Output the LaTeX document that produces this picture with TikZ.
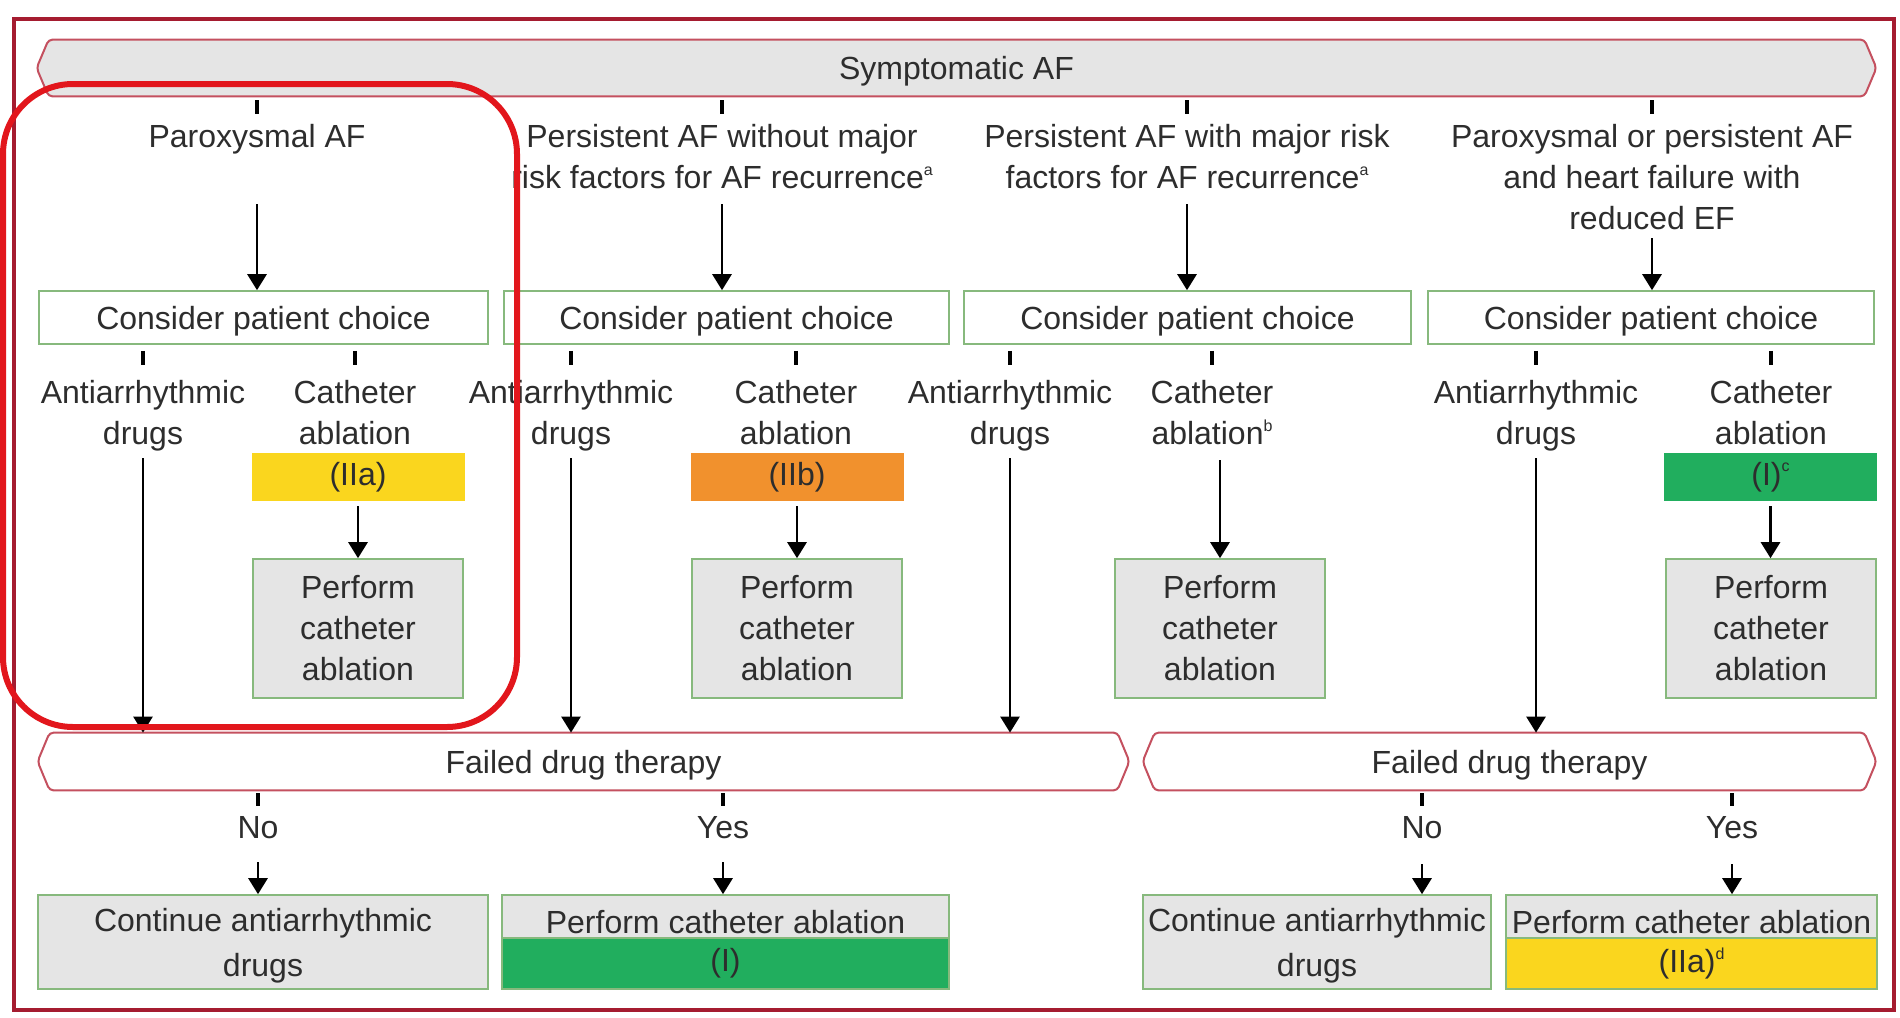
\documentclass[tikz,border=0pt]{standalone}
\usepackage{fontspec}
\setmainfont{Liberation Sans}
\usetikzlibrary{arrows.meta,backgrounds,calc}
\definecolor{framec}{RGB}{165,28,48}
\definecolor{banborder}{RGB}{196,80,95}
\definecolor{bangrey}{RGB}{229,229,229}
\definecolor{boxborder}{RGB}{135,185,125}
\definecolor{boxgrey}{RGB}{229,229,229}
\definecolor{cIIa}{RGB}{250,214,30}
\definecolor{cIIb}{RGB}{241,145,45}
\definecolor{cI}{RGB}{33,174,94}
\definecolor{txt}{RGB}{45,45,45}
\definecolor{hilite}{RGB}{226,22,28}
\newcommand{\smallsup}[1]{\raisebox{0.42em}{\fontsize{8}{8}\selectfont #1}}
\begin{document}
\begin{tikzpicture}[x=0.5pt,y=-0.5pt,
  every node/.style={font=\fontsize{16}{20.5}\selectfont, text=txt, inner sep=0pt, align=center},
  lbl/.style={anchor=north},
  whitebox/.style={draw=boxborder, line width=0.8pt, fill=white, text depth=0pt},
  greybox/.style={draw=boxborder, line width=0.8pt, fill=boxgrey},
  classbar/.style={minimum width=106.5pt, minimum height=24pt},
  arr/.style={-{Triangle[length=8pt,width=9.5pt]}, line width=1.4pt, black},
  tickln/.style={line width=1.7pt, black},
  banline/.style={draw=banborder, line width=1pt, rounded corners=2pt},
]
\useasboundingbox (0,0) rectangle (1900,1017);
\draw[framec, line width=1.6pt] (14,19) rectangle (1894,1010);

% top banner
\node[minimum width=919.5pt, minimum height=28pt, text depth=0pt] (sym) at (956.5,68) {Symptomatic AF};
\begin{scope}[on background layer]
\draw[banline, fill=bangrey] (sym.west) -- ([xshift=6pt]sym.north west) -- ([xshift=-6pt]sym.north east) -- (sym.east) -- ([xshift=-6pt]sym.south east) -- ([xshift=6pt]sym.south west) -- cycle;
\end{scope}

% column headers
\node[lbl] (h1) at (257,124) {Paroxysmal AF};
\node[lbl] (h2) at (722,124) {Persistent AF without major\\risk factors for AF recurrence\smallsup{a}};
\node[lbl] (h3) at (1187,124) {Persistent AF with major risk\\factors for AF recurrence\smallsup{a}};
\node[lbl] (h4) at (1652,124) {Paroxysmal or persistent AF\\and heart failure with\\reduced EF};

\foreach \h in {h1,h2,h3,h4}{
  \draw[tickln] (sym.south -| \h) ++(0,4) -- ++(0,14);
}

% consider boxes
\node[whitebox, minimum width=224.5pt, minimum height=26.5pt] (cp1) at (263.5,317.5) {Consider patient choice};
\node[whitebox, minimum width=222.5pt, minimum height=26.5pt] (cp2) at (726.5,317.5) {Consider patient choice};
\node[whitebox, minimum width=223.5pt, minimum height=26.5pt] (cp3) at (1187.5,317.5) {Consider patient choice};
\node[whitebox, minimum width=223pt, minimum height=26.5pt] (cp4) at (1651,317.5) {Consider patient choice};

\draw[arr] (h1.south |- 0,204) -- (h1.south |- cp1.north);
\draw[arr] (h2.south |- 0,204) -- (h2.south |- cp2.north);
\draw[arr] (h3.south |- 0,204) -- (h3.south |- cp3.north);
\draw[arr] (h4.south |- 0,238) -- (h4.south |- cp4.north);

% sub labels
\node[lbl] (a1) at (143,380) {Antiarrhythmic\\drugs};
\node[lbl] (k1) at (355,380) {Catheter\\ablation};
\node[lbl] (a2) at (571,380) {Antiarrhythmic\\drugs};
\node[lbl] (k2) at (796,380) {Catheter\\ablation};
\node[lbl] (a3) at (1010,380) {Antiarrhythmic\\drugs};
\node[lbl] (k3) at (1212,380) {Catheter\\ablation\smallsup{b}};
\node[lbl] (a4) at (1536,380) {Antiarrhythmic\\drugs};
\node[lbl] (k4) at (1771,380) {Catheter\\ablation};

\draw[tickln] (a1 |- cp1.south) ++(0,6) -- ++(0,14);
\draw[tickln] (k1 |- cp1.south) ++(0,6) -- ++(0,14);
\draw[tickln] (a2 |- cp2.south) ++(0,6) -- ++(0,14);
\draw[tickln] (k2 |- cp2.south) ++(0,6) -- ++(0,14);
\draw[tickln] (a3 |- cp3.south) ++(0,6) -- ++(0,14);
\draw[tickln] (k3 |- cp3.south) ++(0,6) -- ++(0,14);
\draw[tickln] (a4 |- cp4.south) ++(0,6) -- ++(0,14);
\draw[tickln] (k4 |- cp4.south) ++(0,6) -- ++(0,14);

% class bars
\node[classbar, fill=cIIa] (b1) at (358,477) {(IIa)};
\node[classbar, fill=cIIb] (b2) at (797,477) {(IIb)};
\node[classbar, fill=cI] (b4) at (1770.5,477) {(I)\smallsup{c}};

% perform boxes
\node[greybox, minimum width=105pt, minimum height=69.5pt] (p1) at (358,628.5) {Perform\\catheter\\ablation};
\node[greybox, minimum width=105pt, minimum height=69.5pt] (p2) at (797,628.5) {Perform\\catheter\\ablation};
\node[greybox, minimum width=105pt, minimum height=69.5pt] (p3) at (1220,628.5) {Perform\\catheter\\ablation};
\node[greybox, minimum width=105pt, minimum height=69.5pt] (p4) at (1771,628.5) {Perform\\catheter\\ablation};

\draw[arr] ([yshift=-2.5pt]b1.south) -- (b1.south |- p1.north);
\draw[arr] ([yshift=-2.5pt]b2.south) -- (b2.south |- p2.north);
\draw[arr] (p3.north |- 0,460) -- (p3.north);
\draw[arr] ([yshift=-2.5pt]b4.south) -- (b4.south |- p4.north);

% failed drug therapy banners
\node[minimum width=545.5pt, minimum height=28.5pt, text depth=0pt] (f1) at (583.5,761.5) {Failed drug therapy};
\node[minimum width=366.5pt, minimum height=28.5pt, text depth=0pt] (f2) at (1509.5,761.5) {Failed drug therapy};
\begin{scope}[on background layer]
\draw[banline, fill=white] (f1.west) -- ([xshift=6pt]f1.north west) -- ([xshift=-6pt]f1.north east) -- (f1.east) -- ([xshift=-6pt]f1.south east) -- ([xshift=6pt]f1.south west) -- cycle;
\draw[banline, fill=white] (f2.west) -- ([xshift=6pt]f2.north west) -- ([xshift=-6pt]f2.north east) -- (f2.east) -- ([xshift=-6pt]f2.south east) -- ([xshift=6pt]f2.south west) -- cycle;
\end{scope}

\draw[arr] (a1.south |- 0,458) -- (a1.south |- f1.north);
\draw[arr] (a2.south |- 0,458) -- (a2.south |- f1.north);
\draw[arr] (a3.south |- 0,458) -- (a3.south |- f1.north);
\draw[arr] (a4.south |- 0,458) -- (a4.south |- f2.north);

% yes / no
\node (no1) at (258,828) {No};
\node (yes1) at (723,828) {Yes};
\node (no2) at (1422,828) {No};
\node (yes2) at (1732,828) {Yes};

\draw[tickln] (no1 |- f1.south) ++(0,3) -- ++(0,13);
\draw[tickln] (yes1 |- f1.south) ++(0,3) -- ++(0,13);
\draw[tickln] (no2 |- f2.south) ++(0,3) -- ++(0,13);
\draw[tickln] (yes2 |- f2.south) ++(0,3) -- ++(0,13);

% bottom boxes
\node[greybox, minimum width=225pt, minimum height=47pt, font=\fontsize{16}{22.5}\selectfont] (c1) at (263,942) {\rule{0pt}{15pt}Continue antiarrhythmic\\drugs};
\node[greybox, minimum width=223.5pt, minimum height=47pt] (pc1) at (725.5,942) {};
\node[fill=cI, draw=boxborder, line width=0.8pt, minimum width=223.5pt, minimum height=25.5pt, anchor=south] (pc1b) at (pc1.south) {(I)};
\node[anchor=base] (pc1t) at (725.5,933) {Perform catheter ablation};

\node[greybox, minimum width=174pt, minimum height=47pt, font=\fontsize{16}{22.5}\selectfont] (c2) at (1317,942) {\rule{0pt}{15pt}Continue antiarrhythmic\\drugs};
\node[greybox, minimum width=185.5pt, minimum height=47pt] (pc2) at (1691.5,942) {};
\node[fill=cIIa, draw=boxborder, line width=0.8pt, minimum width=185.5pt, minimum height=25.5pt, anchor=south] (pc2b) at (pc2.south) {(IIa)\smallsup{d}};
\node[anchor=base] (pc2t) at (1691.5,933) {Perform catheter ablation};

\draw[arr] (no1.south |- 0,862) -- (no1.south |- c1.north);
\draw[arr] (yes1.south |- 0,862) -- (yes1.south |- pc1.north);
\draw[arr] (no2.south |- 0,864) -- (no2.south |- c2.north);
\draw[arr] (yes2.south |- 0,864) -- (yes2.south |- pc2.north);

% red highlight
\draw[hilite, line width=3pt, rounded corners=35pt] (3,84) rectangle (517,727);
\end{tikzpicture}
\end{document}
